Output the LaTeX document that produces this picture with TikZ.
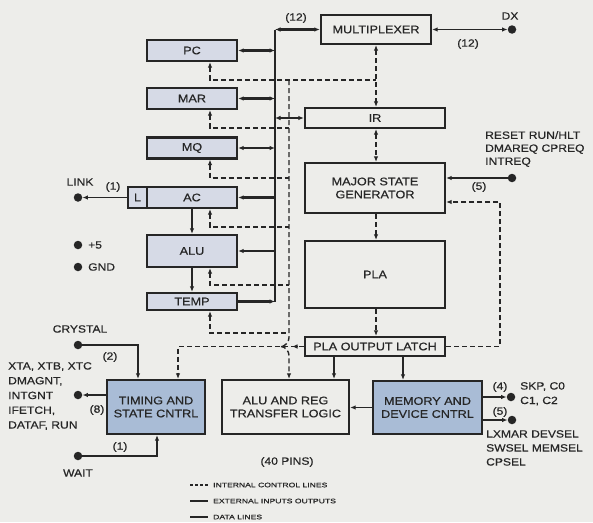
\documentclass[tikz,border=0pt]{standalone}
\usepackage{fontspec}
\setmainfont{Liberation Sans}[FakeStretch=1.15,FakeBold=0.5]
\usetikzlibrary{arrows.meta}
\definecolor{bgc}{HTML}{EDEDEA}
\definecolor{regfill}{HTML}{D6DAE6}
\definecolor{ctlfill}{HTML}{A9BCD6}
\definecolor{ink}{HTML}{262626}
\begin{document}
\begin{tikzpicture}[x=1pt,y=-1pt,
  >={Latex[length=5.5pt,width=4.5pt]},
  box/.style={draw=ink, line width=2.2pt, fill=bgc, inner sep=0pt, align=center, text=ink,
    font=\fontsize{11}{13}\selectfont},
  reg/.style={box, fill=regfill},
  ctlbox/.style={box, fill=ctlfill},
  data/.style={draw=ink, line width=2.2pt},
  ext/.style={draw=ink, line width=1.4pt},
  ctrl/.style={draw=ink, line width=1.4pt, dash pattern=on 5pt off 3pt},
  pin/.style={circle, fill=ink, inner sep=0pt, minimum size=8.5pt},
  lab/.style={font=\fontsize{10.5}{12}\selectfont, text=ink, inner sep=0pt},
  leg/.style={font=\fontsize{6.5}{7.5}\selectfont, text=ink, inner sep=0pt, anchor=west}]
\fill[bgc] (0,0) rectangle (593,522);
\useasboundingbox (0,0) rectangle (593,522);

% ---------- register column ----------
\node[reg, minimum width=90pt, minimum height=21pt] (pc)   at (192,50.5)  {PC};
\node[reg, minimum width=90pt, minimum height=21pt] (mar)  at (192,98.5)  {MAR};
\node[reg, minimum width=90pt, minimum height=21pt] (mq)   at (192,148)   {MQ};
\node[reg, minimum width=109pt, minimum height=21pt] (ac)  at (182.5,197.5) {};
\node[lab, font=\fontsize{11}{13}\selectfont] (actxt) at (192,197.5) {AC};
\node[lab, font=\fontsize{11}{13}\selectfont] (ltxt)  at (137.5,197.5) {L};
\draw[data] (147,187) -- (147,208);
\node[reg, minimum width=90pt, minimum height=32pt] (alu)  at (192,251)   {ALU};
\node[reg, minimum width=90pt, minimum height=17pt] (temp) at (192,301.5) {TEMP};

% ---------- centre column ----------
\node[box, minimum width=110pt, minimum height=29pt] (mux)   at (376,29.5)  {MULTIPLEXER};
\node[box, minimum width=140pt, minimum height=20pt] (ir)    at (375,118)   {IR};
\node[box, minimum width=140pt, minimum height=50pt] (msg)   at (375,188)   {MAJOR STATE\\GENERATOR};
\node[box, minimum width=140pt, minimum height=67pt] (pla)   at (375,274.5) {PLA};
\node[box, minimum width=140pt, minimum height=19pt] (latch) at (375,346.5) {PLA OUTPUT LATCH};

% ---------- bottom row ----------
\node[ctlbox, minimum width=98pt, minimum height=54pt]  (timing) at (156,407)   {TIMING AND\\STATE CNTRL};
\node[box,    minimum width=127pt, minimum height=54pt] (alureg) at (285.5,407) {ALU AND REG\\TRANSFER LOGIC};
\node[ctlbox, minimum width=109pt, minimum height=53pt] (mem)    at (427.5,407.5) {MEMORY AND\\DEVICE CNTRL};

% ---------- data bus ----------
\coordinate (bt) at (275,29.5);
\coordinate (bb) at (275,301.5);
\draw[data] (bt) -- (bb);
\draw[data,<->] (bt) -- (mux.west);
\draw[data,<->] (pc.east)  -- (pc.east -| bt);
\draw[data,<->] (mar.east) -- (mar.east -| bt);
\draw[data,<->] (mq.east)  -- (mq.east -| bt);
\draw[data,->]  (ac.east -| bt)  -- (ac.east);
\draw[data,->]  (alu.east -| bt) -- (alu.east);
\draw[data,->]  (temp.east) -- (temp.east -| bt);
\draw[data,<->] (ir.west)  -- (ir.west -| bt);
\draw[ext,->]  (alu.north |- ac.south) -- (alu.north);
\draw[ext,->]  (alu.south) -- (temp.north);

% ---------- internal control lines ----------
\coordinate (xr) at (210,0);
\coordinate (cv) at (289,80);
\coordinate (cmar) at (289,128);
\coordinate (cmq) at (289,178);
\coordinate (cac) at (289,227);
\coordinate (calu) at (289,285);
\coordinate (ctemp) at (289,333);
\coordinate (fork) at (281,346.5);
\coordinate (vup) at (289,337.5);
\coordinate (vdn) at (289,355.5);
\draw[ctrl,<-] (pc.south -| xr) |- (cv) -- (cv -| mux.south);
\draw[ctrl,<-] (mar.south -| xr) |- (cmar);
\draw[ctrl,<-] (mq.south -| xr) |- (cmq);
\draw[ctrl,<-] (ac.south -| xr) |- (cac);
\draw[ctrl,<-] (alu.south -| xr) |- (calu);
\draw[ctrl,<-] (temp.south -| xr) |- (ctemp);
\draw[ctrl] (cv) -- (vup) .. controls (289,342) and (285,346.5) .. (fork);
\draw[ctrl,->] (fork) .. controls (285,346.5) and (289,351) .. (vdn) -- (vdn |- alureg.north);

\draw[ctrl,<->] (mux.south) -- (mux.south |- ir.north);
\draw[ctrl,<->] (ir.south -| mux.south) -- (mux.south |- msg.north);
\draw[ctrl,->] (msg.south -| mux.south) -- (mux.south |- pla.north);
\draw[ctrl,->] (pla.south -| mux.south) -- (mux.south |- latch.north);

\coordinate (tcorner) at (178,346.5);
\draw[ctrl,->] (latch.west) -- (tcorner) -- (tcorner |- timing.north);
\coordinate (mk1) at (298,346.5);
\coordinate (mk2) at (292,346.5);
\draw[ink, line width=1.4pt, ->] (mk1) -- (mk2);

\coordinate (xfb) at (500,0);
\coordinate (fby) at (0,202);
\draw[ctrl,->] (latch.east) -| (xfb |- fby) -- (msg.east |- fby);

% ---------- latch to lower blocks ----------
\coordinate (xa) at (334,0);
\coordinate (xb) at (403,0);
\draw[ext,->] (latch.south -| xa) -- (alureg.north -| xa);
\draw[ext,->] (latch.south -| xb) -- (mem.north -| xb);
\draw[ext,->] (mem.west) -- (mem.west -| alureg.east);

% ---------- external pins ----------
\node[pin] (dx) at (512,29.5) {};
\node[lab] (dxl) at (510,16) {DX};
\draw[ext,<->] (mux.east) -- (dx);
\node[lab] (n12a) at (468,44) {(12)};
\node[lab] (n12b) at (296,18) {(12)};

\node[pin] (rst) at (512,178) {};
\draw[ext,->] (rst) -- (rst -| msg.east);
\node[lab, anchor=north west, align=left, font=\fontsize{10.5}{13}\selectfont] (rstl) at (485,131)
  {RESET RUN/HLT\\DMAREQ CPREQ\\INTREQ};
\node[lab] (n5a) at (479,187) {(5)};

\node[pin] (skp) at (511,397) {};
\node[pin] (lx)  at (512,420) {};
\draw[ext,->] (mem.east |- skp) -- (skp);
\draw[ext,->] (mem.east |- lx) -- (lx);
\node[lab] (n4) at (500,387) {(4)};
\node[lab] (n5b) at (500,412) {(5)};
\node[lab, anchor=north west, align=left, font=\fontsize{10.5}{14.5}\selectfont] (skpl) at (520,382)
  {SKP, C0\\C1, C2};
\node[lab, anchor=north west, align=left, font=\fontsize{10.5}{14}\selectfont] (lxl) at (486,430)
  {LXMAR DEVSEL\\SWSEL MEMSEL\\CPSEL};

\node[pin] (link) at (78,197.5) {};
\draw[ext,->] (ac.west) -- (link);
\node[lab] (linkl) at (80,182) {LINK};
\node[lab] (n1a) at (113,187) {(1)};

\node[pin] (p5) at (78,245) {};
\node[lab, anchor=west] (p5l) at (88,245) {+5};
\node[pin] (gnd) at (78,267) {};
\node[lab, anchor=west] (gndl) at (88,267) {GND};

\node[pin] (crys) at (78,345) {};
\node[lab] (crysl) at (80,329) {CRYSTAL};
\coordinate (xc) at (138,0);
\draw[ext,->] (crys) -| (timing.north -| xc);
\node[lab] (n2) at (110,357) {(2)};

\node[pin] (xta) at (78,395) {};
\draw[ext,->] (timing.west |- xta) -- (xta);
\node[lab] (n8) at (97,410) {(8)};
\node[lab, anchor=north west, align=left, font=\fontsize{10.5}{14.75}\selectfont] (xtal) at (8,362)
  {XTA, XTB, XTC\\DMAGNT,\\INTGNT\\IFETCH,\\DATAF, RUN};

\node[pin] (wait) at (78,456) {};
\coordinate (xw) at (157,0);
\draw[ext,->] (wait) -| (timing.south -| xw);
\node[lab] (waitl) at (78,473) {WAIT};
\node[lab] (n1b) at (120,447) {(1)};

\node[lab] (pins) at (287,462) {(40 PINS)};

% ---------- legend ----------
\coordinate (la1) at (190,485); \coordinate (lb1) at (208,485);
\coordinate (la2) at (190,501); \coordinate (lb2) at (208,501);
\coordinate (la3) at (190,517); \coordinate (lb3) at (208,517);
\draw[ctrl, dash pattern=on 3pt off 2pt] (la1) -- (lb1);
\draw[ext] (la2) -- (lb2);
\draw[ink, line width=2.8pt] (la3) -- (lb3);
\node[leg] (lg1) at (213,485) {\scalebox{1.15}[1]{INTERNAL CONTROL LINES}};
\node[leg] (lg2) at (213,501) {\scalebox{1.15}[1]{EXTERNAL INPUTS OUTPUTS}};
\node[leg] (lg3) at (213,517) {\scalebox{1.15}[1]{DATA LINES}};
\end{tikzpicture}
\end{document}
